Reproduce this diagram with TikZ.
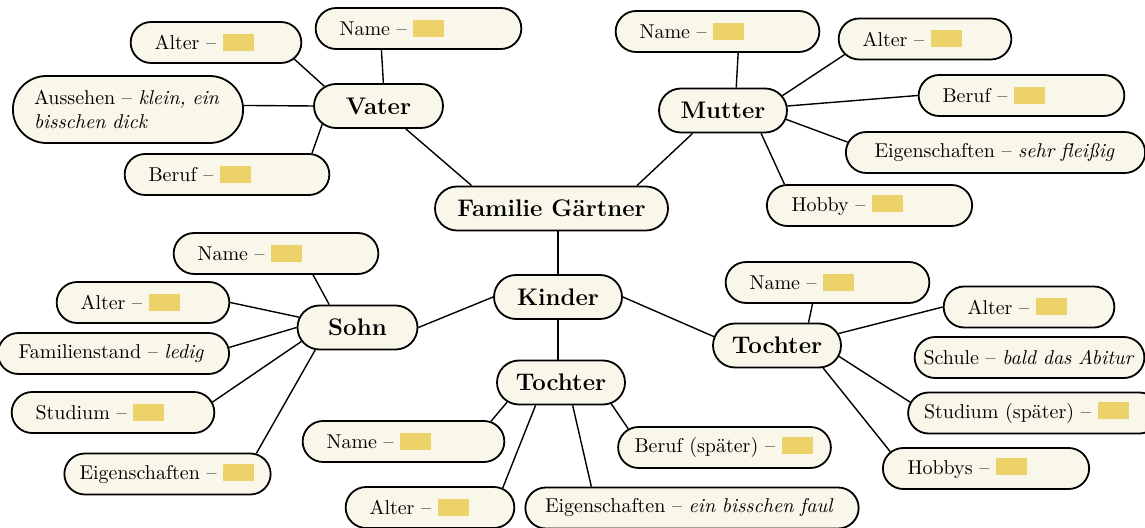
\documentclass[tikz,border=0pt]{standalone}
\usepackage{fontspec}
\usetikzlibrary{shapes.misc}
\definecolor{boxcream}{RGB}{249,246,234}
\definecolor{fillyellow}{RGB}{237,210,105}
\newcommand{\fillin}{\textcolor{fillyellow}{\rule[-0.5pt]{15.5pt}{8.5pt}}}
\newcommand{\handw}[1]{\textit{#1}}
\begin{document}
\begin{tikzpicture}[x=0.5pt, y=-0.5pt,
        leaf/.style={rounded rectangle, draw, line width=0.9pt, fill=boxcream,
        minimum height=20.5pt, inner xsep=11pt, inner ysep=1pt, align=left,
        text width=#1, font=\fontsize{10}{12}\selectfont},
        hub/.style={rounded rectangle, draw, line width=0.9pt, fill=boxcream,
        minimum height=22pt, minimum width=#1, inner xsep=1pt,
        font=\fontsize{12}{14}\selectfont\bfseries},
        link/.style={line width=0.7pt}]
        \useasboundingbox (0,0) rectangle (1145,528);

        \node[hub=118.5pt] (fam) at (551.5,208.5) {Familie Gärtner};
        \node[hub=66.5pt] (vater) at (378.5,106) {Vater};
        \node[hub=66pt] (mutter) at (723,110.5) {Mutter};
        \node[hub=66pt] (kinder) at (558,297) {Kinder};
        \node[hub=62pt] (sohn) at (357.5,327.5) {Sohn};
        \node[hub=66pt] (tmid) at (561,382.5) {Tochter};
        \node[hub=66pt] (tright) at (777,345.5) {Tochter};

        \node[leaf=79pt] (vname) at (418.5,28.5) {Name \textendash{} \fillin};
        \node[leaf=61.5pt] (valter) at (216,42.5) {Alter \textendash{} \fillin};
        \node[leaf=94pt, minimum height=33.5pt, inner xsep=7.5pt] (vaussehen)
        at (128,109.5) {Aussehen \textendash{} \handw{klein, ein}\\\handw{bisschen dick}};
        \node[leaf=78.5pt] (vberuf) at (227,174.5) {Beruf \textendash{} \fillin};

        \node[leaf=78pt] (mname) at (717.5,31.5) {Name \textendash{} \fillin};
        \node[leaf=62.5pt] (malter) at (925,39) {Alter \textendash{} \fillin};
        \node[leaf=79pt] (mberuf) at (1021.5,95.5) {Beruf \textendash{} \fillin};
        \node[leaf=121pt, inner xsep=13.25pt] (meig) at (995.5,152.5)
        {Eigenschaften \textendash{} \handw{sehr fleißig}};
        \node[leaf=78pt] (mhobby) at (869.5,205.5) {Hobby \textendash{} \fillin};

        \node[leaf=78.5pt] (sname) at (276,253.5) {Name \textendash{} \fillin};
        \node[leaf=62.5pt] (salter) at (143,302.5) {Alter \textendash{} \fillin};
        \node[leaf=95pt, inner xsep=9.25pt] (sfam) at (113.5,353.5)
        {Familienstand \textendash{} \handw{ledig}};
        \node[leaf=77.5pt] (sstud) at (113,412.5) {Studium \textendash{} \fillin};
        \node[leaf=88pt, inner xsep=6.25pt] (seig) at (167.5,474)
        {Eigenschaften \textendash{} \fillin};

        \node[leaf=77pt] (tname) at (403.5,441.5) {Name \textendash{} \fillin};
        \node[leaf=60.5pt] (talter) at (430,507.5) {Alter \textendash{} \fillin};
        \node[leaf=147pt, inner xsep=8.75pt] (teig) at (692,508)
        {Eigenschaften \textendash{} \handw{ein bisschen faul}};
        \node[leaf=90pt, inner xsep=6.75pt] (tberuf) at (724.5,447.5)
        {Beruf (später) \textendash{} \fillin};

        \node[leaf=78pt] (rname) at (827.5,282.5) {Name \textendash{} \fillin};
        \node[leaf=61.5pt] (ralter) at (1029,307) {Alter \textendash{} \fillin};
        \node[leaf=106pt, inner xsep=3.75pt] (rschule) at (1029.5,357.5)
        {Schule \textendash{} \handw{bald das Abitur}};
        \node[leaf=110pt, inner xsep=6.5pt] (rstud) at (1034,413)
        {Studium (später) \textendash{} \fillin};
        \node[leaf=78.5pt] (rhobbys) at (986,468.5) {Hobbys \textendash{} \fillin};

        \draw[link] (valter.-12) -- (vater.160);
        \draw[link] (vaussehen.2) -- (vater.west);
        \draw[link] (vberuf.14) -- (vater.198);
        \draw[link] (vname.210) -- (vater.78);
        \draw[link] (vater.-40) -- (fam.164);

        \draw[link] (mname.-46) -- (mutter.60);
        \draw[link] (mutter.14) -- (malter.191);
        \draw[link] (mutter.4) -- (mberuf.west);
        \draw[link] (mutter.-8) -- (meig.176);
        \draw[link] (mutter.-31) -- (mhobby.166);
        \draw[link] (mutter.217) -- (fam.15);

        \draw[link] (kinder.north) -- (kinder.north |- fam.south);
        \draw[link] (kinder.west) -- (sohn.east);
        \draw[link] (kinder.south) -- (kinder.south |- tmid.north);
        \draw[link] (kinder.east) -- (tright.172);

        \draw[link] (sname.-30) -- (sohn.141);
        \draw[link] (salter.east) -- (sohn.170);
        \draw[link] (sfam.3) -- (sohn.west);
        \draw[link] (sstud.6) -- (sohn.194);
        \draw[link] (seig.13) -- (sohn.208);

        \draw[link] (tmid.200) -- (tname.13);
        \draw[link] (tmid.222) -- (talter.15);
        \draw[link] (tmid.-63) -- (teig.168);
        \draw[link] (tmid.-23) -- (tberuf.169);

        \draw[link] (rname.-125) -- (tright.36);
        \draw[link] (tright.11) -- (ralter.west);
        \draw[link] (tright.-10) -- (rstud.175);
        \draw[link] (tright.-26) -- (rhobbys.170);
\end{tikzpicture}
\end{document}
